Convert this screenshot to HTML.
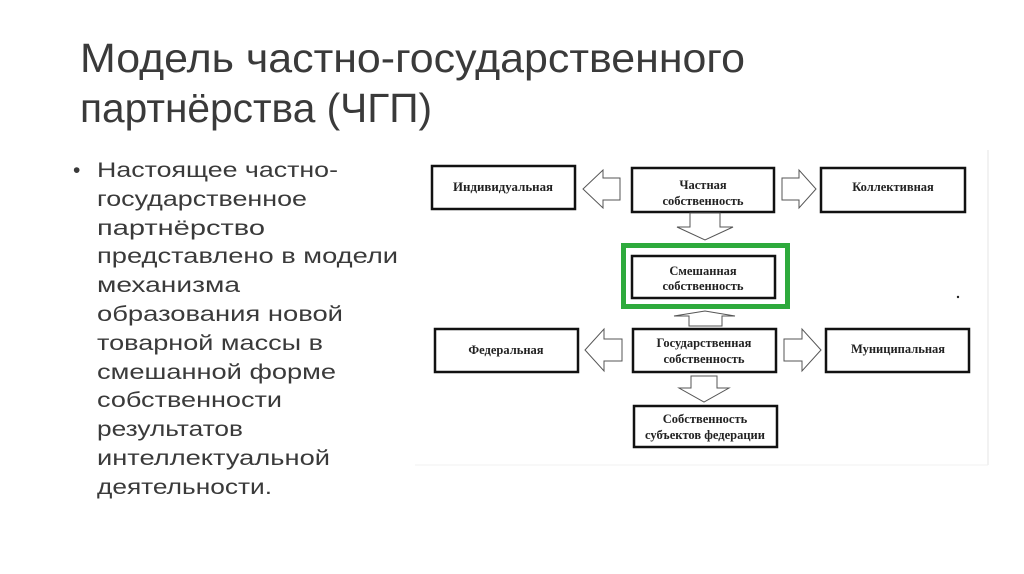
<!DOCTYPE html>
<html><head><meta charset="utf-8"><style>
html,body{margin:0;padding:0;background:#fff;}
svg{display:block}
.t{font-family:"Liberation Sans",sans-serif;fill:#3a3a3a}
.d{font-family:"Liberation Serif",serif;font-size:12.5px;fill:#222;text-anchor:middle;font-weight:bold}
.b{fill:#fff;stroke:#111;stroke-width:2.5}
.a{fill:#fff;stroke:#555;stroke-width:1}
</style></head><body>
<svg width="1024" height="574" viewBox="0 0 1024 574" xmlns="http://www.w3.org/2000/svg">
<text class="t" x="80" y="72" font-size="41" textLength="665" lengthAdjust="spacingAndGlyphs">Модель частно-государственного</text>
<text class="t" x="80" y="122" font-size="41" textLength="352" lengthAdjust="spacingAndGlyphs">партнёрства (ЧГП)</text>
<g class="t" font-size="21">
<text x="73" y="177">•</text>
<text x="97" y="177" textLength="241" lengthAdjust="spacingAndGlyphs">Настоящее частно-</text>
<text x="97" y="206" textLength="210" lengthAdjust="spacingAndGlyphs">государственное</text>
<text x="97" y="235" textLength="168" lengthAdjust="spacingAndGlyphs">партнёрство</text>
<text x="97" y="263" textLength="301" lengthAdjust="spacingAndGlyphs">представлено в модели</text>
<text x="97" y="292" textLength="143" lengthAdjust="spacingAndGlyphs">механизма</text>
<text x="97" y="321" textLength="246" lengthAdjust="spacingAndGlyphs">образования новой</text>
<text x="97" y="350" textLength="226" lengthAdjust="spacingAndGlyphs">товарной массы в</text>
<text x="97" y="379" textLength="239" lengthAdjust="spacingAndGlyphs">смешанной форме</text>
<text x="97" y="407" textLength="185" lengthAdjust="spacingAndGlyphs">собственности</text>
<text x="97" y="436" textLength="146" lengthAdjust="spacingAndGlyphs">результатов</text>
<text x="97" y="465" textLength="233" lengthAdjust="spacingAndGlyphs">интеллектуальной</text>
<text x="97" y="494" textLength="175" lengthAdjust="spacingAndGlyphs">деятельности.</text>
</g>
<line x1="988" y1="150" x2="988" y2="465" stroke="#e6e6e6" stroke-width="1"/>
<line x1="415" y1="465" x2="988" y2="465" stroke="#f0f0f0" stroke-width="1"/>
<!-- row 1 -->
<rect class="b" x="432" y="166" width="143" height="43"/>
<rect class="b" x="632" y="168" width="142" height="44"/>
<rect class="b" x="821" y="168" width="144" height="44"/>
<text class="d" x="503" y="191" textLength="100" lengthAdjust="spacingAndGlyphs">Индивидуальная</text>
<text class="d" x="703" y="189">Частная</text>
<text class="d" x="703" y="205">собственность</text>
<text class="d" x="893" y="191">Коллективная</text>
<polygon class="a" points="620,178 603,178 603,170 583,189 603,208 603,200 620,200"/>
<polygon class="a" points="782,178 799,178 799,170 816,189 799,208 799,200 782,200"/>
<polygon class="a" points="690,213 720,213 720,227 733,227 705,240 677,227 690,227"/>
<!-- middle -->
<rect x="623.5" y="245.5" width="164" height="61" fill="none" stroke="#2eaa3c" stroke-width="5"/>
<rect class="b" x="632" y="256" width="143" height="42"/>
<text class="d" x="703" y="275">Смешанная</text>
<text class="d" x="703" y="290">собственность</text>
<circle cx="958" cy="297" r="1.2" fill="#222"/>
<polygon class="a" points="689,326 722,326 722,316 735,316 705,311 674,316 689,316"/>
<!-- row 2 -->
<rect class="b" x="435" y="329" width="143" height="43"/>
<rect class="b" x="633" y="329" width="143" height="43"/>
<rect class="b" x="826" y="329" width="143" height="43"/>
<text class="d" x="506" y="354">Федеральная</text>
<text class="d" x="704" y="347">Государственная</text>
<text class="d" x="704" y="363">собственность</text>
<text class="d" x="898" y="353">Муниципальная</text>
<polygon class="a" points="622,339 604,339 604,329 585,350 604,371 604,361 622,361"/>
<polygon class="a" points="784,339 802,339 802,329 821,350 802,371 802,361 784,361"/>
<polygon class="a" points="691,376 717,376 717,388 729,388 704,402 679,388 691,388"/>
<rect class="b" x="634" y="406" width="143" height="41"/>
<text class="d" x="705" y="423">Собственность</text>
<text class="d" x="705" y="439">субъектов федерации</text>
</svg>
</body></html>
